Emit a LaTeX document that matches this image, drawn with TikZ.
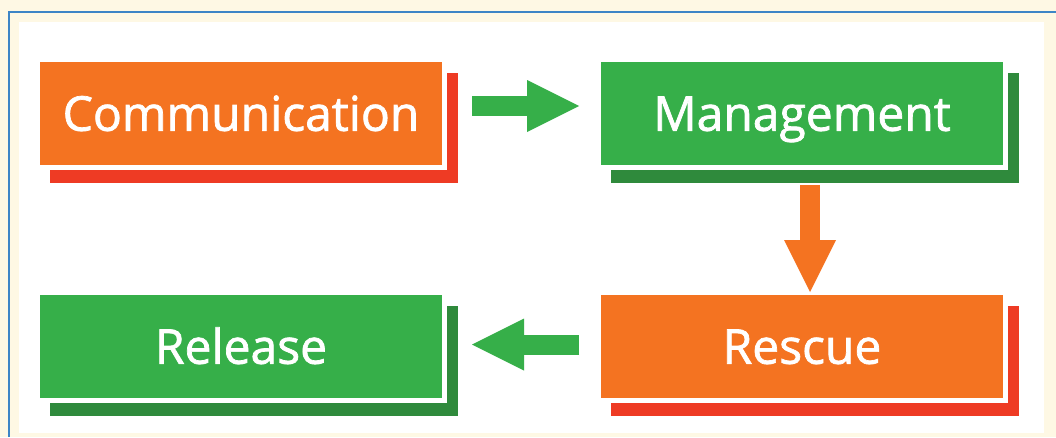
\documentclass[tikz,border=0pt]{standalone}
\usepackage{fontspec}
\setmainfont{Open Sans}
\newfontfamily\cardfont{Open Sans}[FakeBold=1.5]
\usetikzlibrary{arrows.meta,backgrounds}
\definecolor{cream}{HTML}{FEF8E4}
\definecolor{frameblue}{HTML}{3D85C6}
\definecolor{boxorange}{HTML}{F47321}
\definecolor{deepred}{HTML}{EE3B24}
\definecolor{boxgreen}{HTML}{36AF49}
\definecolor{darkgreen}{HTML}{2F8A3C}

\begin{document}
\begin{tikzpicture}[x=1pt,y=-1pt]
  \tikzset{
    card/.style={draw=white,line width=5pt,outer sep=0pt,inner sep=0pt,minimum width=407pt,minimum height=108pt,text=white,font=\cardfont\fontsize{48}{52}\selectfont,text height=34.5pt,text depth=0pt},
    bigarrow/.style={line width=20pt,-{Triangle[length=52pt,width=52pt,line width=0pt]}}
  }
  \useasboundingbox (0,0) rectangle (1056,437);

  % Four stages.
  \node[card,fill=boxorange] (comm) at (241,113.5) {Communication};
  \node[card,fill=boxgreen] (mgmt) at (802,113.5) {Management};
  \node[card,fill=boxorange] (rescue) at (802,346.5) {Rescue};
  \node[card,fill=boxgreen] (release) at (241,346.5) {Release};

  % Block arrows.
  \draw[bigarrow,boxgreen] ([shift={(27.5,-7.5)}]comm.east) -- ([shift={(-19.5,-7.5)}]mgmt.west);
  \draw[bigarrow,boxorange] ([shift={(8,17.5)}]mgmt.south) -- ([shift={(8,-0.5)}]rescue.north);
  \draw[bigarrow,boxgreen] ([shift={(-19.5,-2)}]rescue.west) -- ([shift={(27.5,-2)}]release.east);

  % Frame, panel and offset bars.
  \begin{scope}[on background layer]
    \fill[cream] (0,0) rectangle (1056,437);
    \draw[frameblue,line width=1.5pt] (9,437) -- (9,12) -- (1056,12);
    \fill[white] (19,22) rectangle (1044,433);
    \fill[deepred] ([shift={(12.5,13.5)}]comm.north west) rectangle ([shift={(13.5,15.5)}]comm.south east);
    \fill[darkgreen] ([shift={(12.5,13.5)}]mgmt.north west) rectangle ([shift={(13.5,15.5)}]mgmt.south east);
    \fill[deepred] ([shift={(12.5,13.5)}]rescue.north west) rectangle ([shift={(13.5,15.5)}]rescue.south east);
    \fill[darkgreen] ([shift={(12.5,13.5)}]release.north west) rectangle ([shift={(13.5,15.5)}]release.south east);
  \end{scope}
\end{tikzpicture}
\end{document}
